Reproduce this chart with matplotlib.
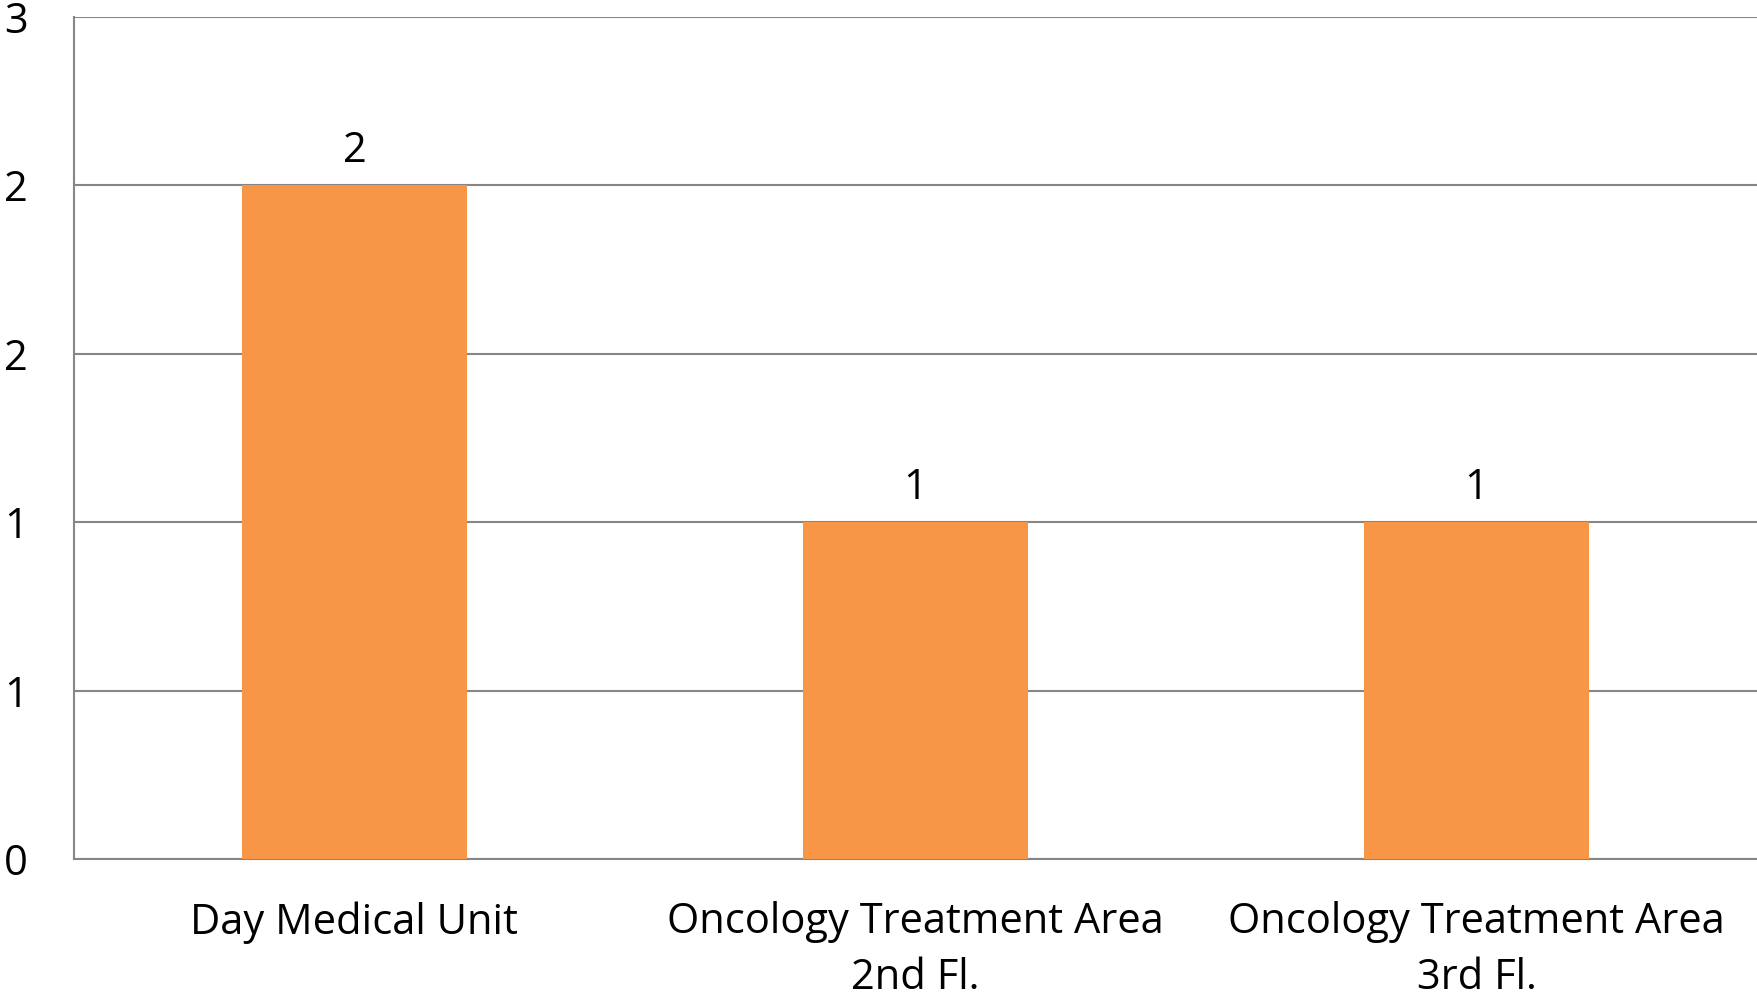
import numpy as np
import matplotlib
matplotlib.use("Agg")
import matplotlib.pyplot as plt
from matplotlib.ticker import FixedLocator, FixedFormatter

## data
categories = ["Day Medical Unit", "Oncology Treatment Area\n2nd Fl.", "Oncology Treatment Area\n3rd Fl."]
values = [2, 1, 1]
y_ticks = [0, 0.5, 1, 1.5, 2, 2.5]
y_tick_labels = ["0", "1", "1", "2", "2", "3"]

plt.rcParams['font.family'] = ['Open Sans', 'DejaVu Sans']

fig = plt.figure(figsize=(17.57, 10.0), dpi=100)
ax = fig.add_axes([0.0421, 0.1406, 0.9579, 0.8424])

x = np.arange(len(categories))
bars = ax.bar(x, values, width=0.4, color="#F79646", zorder=3)

for b, v in zip(bars, values):
    ax.annotate(str(v), (b.get_x() + b.get_width() / 2, v), xytext=(0, 10),
                textcoords="offset points", ha="center", va="bottom", fontsize=30)

ax.set_xlim(-0.5, len(categories) - 0.5)
ax.set_ylim(0, 2.5)
ax.yaxis.set_major_locator(FixedLocator(y_ticks))
ax.yaxis.set_major_formatter(FixedFormatter(y_tick_labels))
ax.set_xticks(x)
ax.set_xticklabels(categories, linespacing=1.45)

ax.grid(axis="y", color="#868686", linewidth=1.5, zorder=0)
for s in ["top", "right"]:
    ax.spines[s].set_visible(False)
for s in ["left", "bottom"]:
    ax.spines[s].set_color("#868686")
    ax.spines[s].set_linewidth(1.5)

ax.tick_params(axis="y", length=0, pad=33, labelsize=30)
ax.tick_params(axis="x", length=0, pad=30, labelsize=30)

fig.savefig("out.png", dpi=100)
